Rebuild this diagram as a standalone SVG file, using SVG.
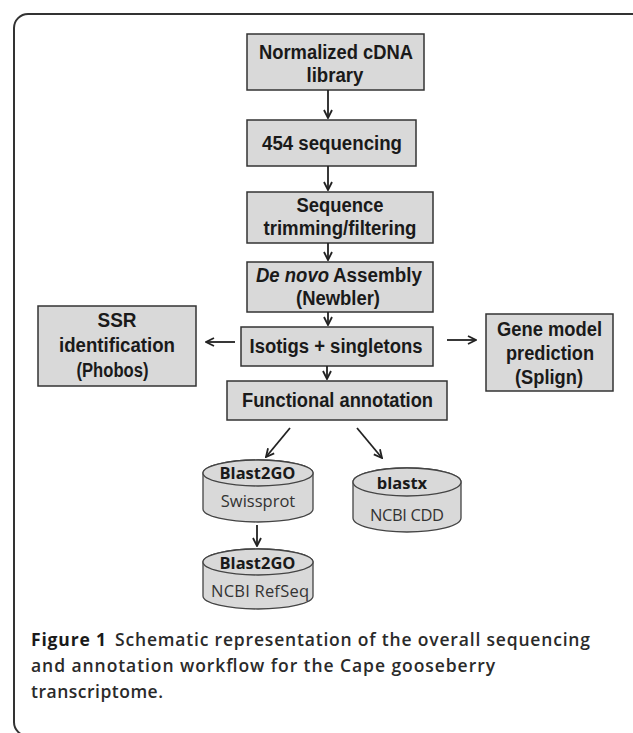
<svg xmlns="http://www.w3.org/2000/svg" width="633" height="733" viewBox="0 0 633 733">
<defs>
<style>
.box{fill:#d9d9d9;stroke:#333;stroke-width:1.5}
.cyl{fill:#d9d9d9;stroke:#444;stroke-width:1.3}
.t{font-family:"Liberation Sans",Arial,sans-serif;font-weight:bold;font-size:20px;fill:#1a1a1a;text-anchor:middle}
.tl{font-family:"Liberation Sans",Arial,sans-serif;font-weight:bold;font-size:20px;fill:#1a1a1a}
.cb{font-family:"Open Sans","Noto Sans",sans-serif;font-weight:bold;font-size:16.5px;fill:#1a1a1a;text-anchor:middle}
.cr{font-family:"Open Sans","Noto Sans",sans-serif;font-size:16.5px;fill:#333;text-anchor:middle}
.cap{font-family:"Open Sans","Noto Sans",sans-serif;font-size:17.5px;font-weight:600;fill:#2a2a2a}
.capb{font-family:"Open Sans","Noto Sans",sans-serif;font-size:17.5px;font-weight:bold;fill:#1a1a1a}
.c{fill:none;stroke:#222;stroke-width:1.8}
</style>
<marker id="ah" viewBox="0 0 10 10" refX="9" refY="5" markerWidth="10" markerHeight="10" markerUnits="userSpaceOnUse" orient="auto">
<path d="M1,1 L9,5 L1,9" fill="none" stroke="#222" stroke-width="1.8"/>
</marker>
</defs>
<rect width="633" height="733" fill="#fff"/>
<rect x="14" y="14" width="660" height="722" rx="14" fill="none" stroke="#333" stroke-width="2"/>

<g id="n1"><rect class="box" x="247" y="34" width="177" height="56"/>
<text class="t" x="336" y="58.5" textLength="154" lengthAdjust="spacingAndGlyphs">Normalized cDNA</text>
<text class="t" x="335" y="82" textLength="57" lengthAdjust="spacingAndGlyphs">library</text></g>

<g id="n2"><rect class="box" x="247" y="120" width="169" height="46"/>
<text class="t" x="332" y="150" textLength="140" lengthAdjust="spacingAndGlyphs">454 sequencing</text></g>

<g id="n3"><rect class="box" x="247" y="192" width="186" height="51"/>
<text class="t" x="340" y="212" textLength="87" lengthAdjust="spacingAndGlyphs">Sequence</text>
<text class="t" x="340" y="235" textLength="153" lengthAdjust="spacingAndGlyphs">trimming/filtering</text></g>

<g id="n4"><rect class="box" x="247" y="262" width="186" height="50"/>
<text class="tl" x="256" y="281.5" font-style="italic" textLength="73" lengthAdjust="spacingAndGlyphs">De novo</text>
<text class="tl" x="333" y="281.5" textLength="89" lengthAdjust="spacingAndGlyphs">Assembly</text>
<text class="t" x="338" y="304.5" textLength="84" lengthAdjust="spacingAndGlyphs">(Newbler)</text></g>

<g id="n5"><rect class="box" x="241" y="327" width="192" height="39"/>
<text class="t" x="336" y="352.5" textLength="173" lengthAdjust="spacingAndGlyphs">Isotigs + singletons</text></g>

<g id="n6"><rect class="box" x="38" y="306" width="158" height="80"/>
<text class="t" x="117" y="327" textLength="39" lengthAdjust="spacingAndGlyphs">SSR</text>
<text class="t" x="117" y="352" textLength="116" lengthAdjust="spacingAndGlyphs">identification</text>
<text class="t" x="112.5" y="377" textLength="72" lengthAdjust="spacingAndGlyphs">(Phobos)</text></g>

<g id="n7"><rect class="box" x="486" y="314" width="127" height="77"/>
<text class="t" x="549.5" y="336" textLength="105" lengthAdjust="spacingAndGlyphs">Gene model</text>
<text class="t" x="550" y="360" textLength="88" lengthAdjust="spacingAndGlyphs">prediction</text>
<text class="t" x="549" y="384" textLength="68" lengthAdjust="spacingAndGlyphs">(Splign)</text></g>

<g id="n8"><rect class="box" x="227" y="381" width="220" height="39"/>
<text class="t" x="337.5" y="407" textLength="191" lengthAdjust="spacingAndGlyphs">Functional annotation</text></g>

<g id="n9"><path class="cyl" d="M203,473 L203,509 A55,13 0 0 0 313,509 L313,473 A55,13 0 0 0 203,473 Z"/>
<ellipse class="cyl" cx="258" cy="473" rx="55" ry="13"/>
<text class="cb" x="257.5" y="479">Blast2GO</text>
<text class="cr" x="258" y="506.5">Swissprot</text></g>

<g id="n10"><path class="cyl" d="M353,482 L353,518 A54,14 0 0 0 461,518 L461,482 A54,14 0 0 0 353,482 Z"/>
<ellipse class="cyl" cx="407" cy="482" rx="54" ry="14"/>
<text class="cb" x="402" y="489">blastx</text>
<text class="cr" x="407" y="521" textLength="74">NCBI CDD</text></g>

<g id="n11"><path class="cyl" d="M203,562 L203,596 A55,13 0 0 0 313,596 L313,562 A55,13 0 0 0 203,562 Z"/>
<ellipse class="cyl" cx="258" cy="562" rx="55" ry="13"/>
<text class="cb" x="257.5" y="568.5">Blast2GO</text>
<text class="cr" x="260" y="597" textLength="98">NCBI RefSeq</text></g>

<g id="connectors">
<line class="c" x1="328" y1="90" x2="328" y2="118" marker-end="url(#ah)"/>
<line class="c" x1="328" y1="166" x2="328" y2="190" marker-end="url(#ah)"/>
<line class="c" x1="328" y1="243" x2="328" y2="260" marker-end="url(#ah)"/>
<line class="c" x1="328" y1="312" x2="328" y2="325" marker-end="url(#ah)"/>
<line class="c" x1="327" y1="366" x2="327" y2="379" marker-end="url(#ah)"/>
<line class="c" x1="235" y1="342" x2="206" y2="342" marker-end="url(#ah)"/>
<line class="c" x1="447" y1="340" x2="476" y2="340" marker-end="url(#ah)"/>
<line class="c" x1="290" y1="428" x2="266" y2="457" marker-end="url(#ah)"/>
<line class="c" x1="357" y1="428" x2="382" y2="458" marker-end="url(#ah)"/>
<line class="c" x1="257" y1="525" x2="257" y2="546" marker-end="url(#ah)"/>
</g>

<g id="caption">
<text class="capb" x="31" y="646" textLength="75">Figure 1</text>
<text class="cap" x="115" y="646" textLength="475">Schematic representation of the overall sequencing</text>
<text class="cap" x="31" y="672" textLength="464">and annotation workflow for the Cape gooseberry</text>
<text class="cap" x="31" y="698" textLength="132">transcriptome.</text>
</g>
</svg>
